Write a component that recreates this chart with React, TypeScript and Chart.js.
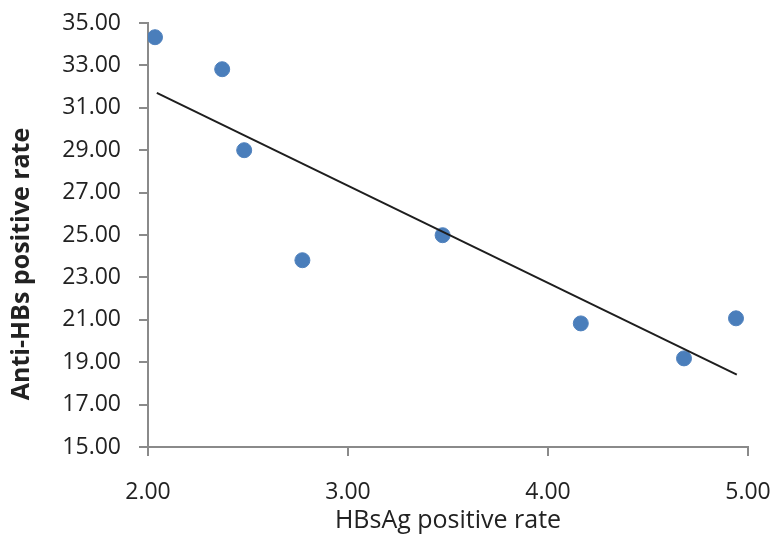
import React, { useEffect, useRef } from "react";
import { Chart, registerables } from "chart.js";

Chart.register(...registerables);

// Data
const hbsagRate = [2.035, 2.371, 2.481, 2.772, 3.473, 4.164, 4.68, 4.94];
const antiHbsRate = [34.33, 32.82, 29.0, 23.81, 24.99, 20.83, 19.18, 21.07];
const trendX = [2.044, 4.944];
const trendY = [31.7, 18.41];

const xTitle = "HBsAg positive rate";
const yTitle = "Anti-HBs positive rate";

const FONT = "'Open Sans', 'Liberation Sans', sans-serif";
const AXIS_GRAY = "#8a8a8a";
const TEXT = "#222222";

const yTitlePlugin = {
  id: "yTitlePlugin",
  afterDraw(chart: any) {
    const ctx = chart.ctx;
    const area = chart.chartArea;
    ctx.save();
    ctx.font = `bold 25px ${FONT}`;
    ctx.fillStyle = TEXT;
    ctx.textAlign = "center";
    ctx.textBaseline = "middle";
    ctx.translate(22, area.bottom - 183);
    ctx.rotate(-Math.PI / 2);
    ctx.fillText(yTitle, 0, 0);
    ctx.restore();
  },
};

export default function App() {
  const canvasRef = useRef<HTMLCanvasElement | null>(null);

  useEffect(() => {
    if (!canvasRef.current) return;
    const points = hbsagRate.map((x, i) => ({ x, y: antiHbsRate[i] }));
    const trend = trendX.map((x, i) => ({ x, y: trendY[i] }));
    const chart = new Chart(canvasRef.current, {
      type: "scatter",
      data: {
        datasets: [
          {
            label: "data",
            data: points,
            backgroundColor: "#4A7EBB",
            borderColor: "#4F81BD",
            borderWidth: 1,
            pointRadius: 7.5,
            showLine: false,
            order: 1,
          },
          {
            label: "trend",
            data: trend,
            showLine: true,
            borderColor: "#1e1e1e",
            borderWidth: 2,
            pointRadius: 0,
            fill: false,
            order: 0,
          },
        ],
      },
      options: {
        animation: false,
        responsive: true,
        maintainAspectRatio: false,
        layout: { padding: { top: 23, right: 27, left: 0, bottom: 0 } },
        plugins: {
          legend: { display: false },
          tooltip: { enabled: false },
        },
        scales: {
          x: {
            type: "linear",
            min: 2,
            max: 5,
            afterFit: (scale: any) => {
              scale.height = 100;
              scale.paddingLeft = 0;
              scale.paddingRight = 0;
            },
            ticks: {
              stepSize: 1,
              padding: 23,
              color: TEXT,
              font: { family: FONT, size: 23 },
              callback: (v: any) => Number(v).toFixed(2),
            },
            grid: {
              display: true,
              drawOnChartArea: false,
              drawTicks: true,
              tickLength: 9,
              color: AXIS_GRAY,
              lineWidth: 2,
            },
            border: { display: true, color: AXIS_GRAY, width: 2 },
            title: {
              display: true,
              text: xTitle,
              color: TEXT,
              font: { family: FONT, size: 25 },
              padding: { top: 0, bottom: 11 },
            },
          },
          y: {
            type: "linear",
            min: 15,
            max: 35,
            afterFit: (scale: any) => {
              scale.width = 148;
              scale.paddingTop = 0;
              scale.paddingBottom = 0;
            },
            ticks: {
              stepSize: 2,
              padding: 18,
              color: TEXT,
              font: { family: FONT, size: 23 },
              callback: (v: any) => Number(v).toFixed(2),
            },
            grid: {
              display: true,
              drawOnChartArea: false,
              drawTicks: true,
              tickLength: 9,
              color: AXIS_GRAY,
              lineWidth: 2,
            },
            border: { display: true, color: AXIS_GRAY, width: 2 },
          },
        },
      },
      plugins: [yTitlePlugin],
    });
    return () => chart.destroy();
  }, []);

  return (
    <div
      style={{
        position: "absolute",
        left: 0,
        top: 0,
        width: 775,
        height: 547,
        background: "#ffffff",
      }}
    >
      <canvas ref={canvasRef} style={{ display: "block" }} />
    </div>
  );
}
